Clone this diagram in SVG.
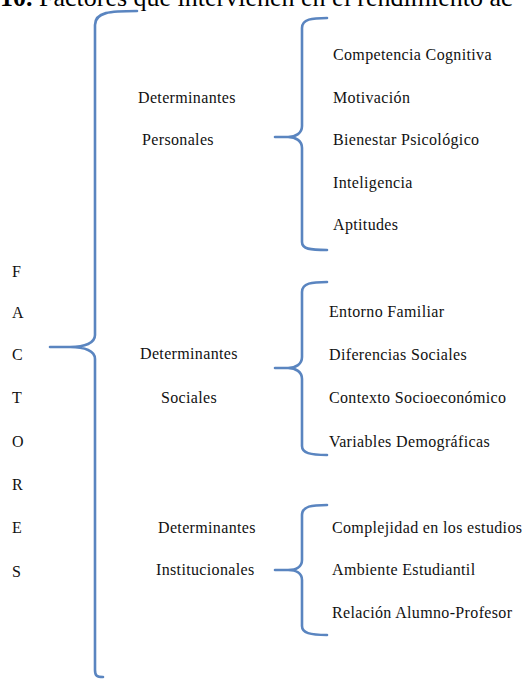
<svg xmlns="http://www.w3.org/2000/svg" width="522" height="682" viewBox="0 0 522 682">
<style>
.t{font-family:"Liberation Serif","Times New Roman",serif;font-size:16px;letter-spacing:0.35px;fill:#111}
.title{font-family:"Liberation Serif","Times New Roman",serif;font-size:26px;fill:#000}
.b{fill:none;stroke:#5a85c0;stroke-width:2.6;stroke-linecap:round;stroke-linejoin:round}
</style>
<rect width="522" height="682" fill="#fff"/>
<g id="title"><text class="title" x="0" y="6"><tspan font-weight="bold">10.</tspan> Factores que intervienen en el rendimiento ac</text></g>
<g id="connectors">
<path class="b" d="M137,11 C110,11 95,12 95,25 L95,335 C95,343 85,347 70,347 L50,347 L70,347 C85,347 95,351 95,359 L95,670 C95,676 97,677 103,677"/>
<path class="b" d="M327,18 C312,18 302,19 302,28 L302,126 C302,133 296,137 288,137 L275,137 L288,137 C296,137 302,141 302,148 L302,242 C302,249 310,250 327,250"/>
<path class="b" d="M327,282 C312,282 302,283 302,292 L302,357 C302,364 296,368 288,368 L275,368 L288,368 C296,368 302,372 302,379 L302,446 C302,453 310,455 327,455"/>
<path class="b" d="M327,505 C312,505 302,506 302,515 L302,560 C302,567 296,570 288,570 L275,570 L288,570 C296,570 302,573 302,580 L302,626 C302,633 310,635 327,635"/>
</g>
<g id="factores">
<text class="t" x="12" y="277">F</text>
<text class="t" x="12" y="318">A</text>
<text class="t" x="12" y="360">C</text>
<text class="t" x="12" y="403">T</text>
<text class="t" x="12" y="447">O</text>
<text class="t" x="12" y="490">R</text>
<text class="t" x="12" y="533">E</text>
<text class="t" x="12" y="577">S</text>
</g>
<g id="det-personales">
<text class="t" x="138" y="103">Determinantes</text>
<text class="t" x="142" y="145">Personales</text>
</g>
<g id="det-sociales">
<text class="t" x="140" y="359">Determinantes</text>
<text class="t" x="161" y="403">Sociales</text>
</g>
<g id="det-institucionales">
<text class="t" x="158" y="533">Determinantes</text>
<text class="t" x="156" y="575">Institucionales</text>
</g>
<g id="personales-items">
<text class="t" x="333" y="60">Competencia Cognitiva</text>
<text class="t" x="333" y="103">Motivación</text>
<text class="t" x="333" y="145">Bienestar Psicológico</text>
<text class="t" x="333" y="188">Inteligencia</text>
<text class="t" x="333" y="230">Aptitudes</text>
</g>
<g id="sociales-items">
<text class="t" x="329" y="317">Entorno Familiar</text>
<text class="t" x="329" y="360">Diferencias Sociales</text>
<text class="t" x="329" y="403">Contexto Socioeconómico</text>
<text class="t" x="329" y="447">Variables Demográficas</text>
</g>
<g id="institucionales-items">
<text class="t" x="332" y="533">Complejidad en los estudios</text>
<text class="t" x="332" y="575">Ambiente Estudiantil</text>
<text class="t" x="332" y="618">Relación Alumno-Profesor</text>
</g>
</svg>
